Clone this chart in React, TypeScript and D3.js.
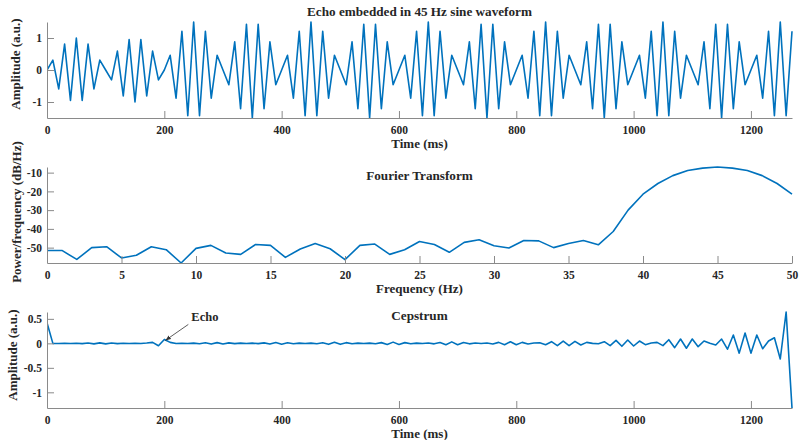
import { useEffect, useRef } from "react";
import * as d3 from "d3";

const waveAmplitude = [
  0, 0.31, -0.59, 0.81, -0.95, 1, -0.95, 0.81, -0.59, 0.31,
  0, -0.31, 0.59, -0.81, 0.95, -1, 0.95, -0.81, 0.59, -0.31,
  0, 0.46, -0.88, 1.21, -1.43, 1.5, -1.43, 1.21, -0.88, 0.46,
  0, -0.46, 0.88, -1.21, 1.43, -1.5, 1.43, -1.21, 0.88, -0.46,
  0, 0.46, -0.88, 1.21, -1.43, 1.5, -1.43, 1.21, -0.88, 0.46,
  0, -0.46, 0.88, -1.21, 1.43, -1.5, 1.43, -1.21, 0.88, -0.46,
  0, 0.46, -0.88, 1.21, -1.43, 1.5, -1.43, 1.21, -0.88, 0.46,
  0, -0.46, 0.88, -1.21, 1.43, -1.5, 1.43, -1.21, 0.88, -0.46,
  0, 0.46, -0.88, 1.21, -1.43, 1.5, -1.43, 1.21, -0.88, 0.46,
  0, -0.46, 0.88, -1.21, 1.43, -1.5, 1.43, -1.21, 0.88, -0.46,
  0, 0.46, -0.88, 1.21, -1.43, 1.5, -1.43, 1.21, -0.88, 0.46,
  0, -0.46, 0.88, -1.21, 1.43, -1.5, 1.43, -1.21, 0.88, -0.46,
  0, 0.46, -0.88, 1.21, -1.43, 1.5, -1.43, 1.21,
];

// power spectral density, 0..50 Hz in 1 Hz steps
const psdDb = [
  -51.5, -51.5, -56.3, -50.0, -49.5, -55.5, -54.1, -49.5, -51.1, -58.2,
  -50.4, -48.8, -52.9, -53.6, -48.3, -48.8, -55.2, -50.7, -47.8, -50.6,
  -56.4, -48.8, -48.1, -53.6, -51.1, -46.7, -48.3, -52.5, -47.2, -45.8,
  -49.0, -50.2, -46.2, -46.4, -50.0, -47.8, -46.2, -48.5, -41.4, -30.0,
  -21.5, -15.8, -11.6, -8.9, -7.6, -7.0, -7.6, -8.9, -11.6, -15.8,
  -21.5,
];

// real cepstrum, 10 ms quefrency steps
const cepstrum = [
  0.42, 0.0, -0.003, 0.002, -0.003, 0.003, -0.005, 0.008, -0.01, 0.01,
  -0.01, 0.008, -0.005, 0.003, -0.002, 0.002, -0.003, 0.006, 0.02, -0.05,
  0.08, 0.02, -0.004, 0.002, -0.004, 0.005, -0.008, 0.012, -0.015, 0.015,
  -0.014, 0.01, -0.006, 0.004, -0.003, 0.004, -0.006, 0.01, -0.015, 0.018,
  -0.017, 0.012, -0.007, 0.004, -0.003, 0.005, -0.008, 0.013, -0.02, 0.022,
  -0.02, 0.014, -0.008, 0.005, -0.003, 0.005, -0.009, 0.015, -0.022, 0.025,
  -0.022, 0.015, -0.009, 0.005, -0.004, 0.006, -0.01, 0.018, -0.027, 0.03,
  -0.027, 0.018, -0.01, 0.006, -0.004, 0.007, -0.012, 0.02, -0.03, 0.034,
  -0.03, 0.02, -0.012, 0.007, 0.01, -0.027, 0.034, -0.047, 0.047, -0.047,
  0.04, -0.034, 0.02, 0.0, -0.007, 0.034, -0.047, 0.06, -0.06, 0.068,
  -0.054, 0.047, -0.027, 0.007, 0.02, -0.047, 0.074, -0.088, 0.088, -0.1,
  0.088, -0.068, 0.047, 0.0, -0.034, 0.088, -0.12, 0.17, -0.2, 0.21,
  -0.2, 0.17, -0.11, 0.047, 0.115, -0.32, 0.64, -1.32,
];

const timeTicks = [0, 200, 400, 600, 800, 1000, 1200];
const freqTicks = [0, 5, 10, 15, 20, 25, 30, 35, 40, 45, 50];
const waveYTicks = [-1, 0, 1];
const psdYTicks = [-50, -40, -30, -20, -10];
const cepYTicks = [-1, -0.5, 0, 0.5];

const FONT = "'Liberation Serif', 'Times New Roman', serif";
const LINE = "#0072BD";
const AXIS = "#8a8a8a";
const TEXT = "#262626";

// MATLAB-like tick text: plain hyphen, no thousands separator
const plain = (d) => String(d);

const App = () => {
  const ref = useRef(null);

  useEffect(() => {
    const svg = d3.select(ref.current);
    svg.selectAll("*").remove();

    const left = 47, right = 792, h = 96;
    const times = waveAmplitude.map((_, i) => i * 10);
    const freqs = psdDb.map((_, i) => i);
    const quef = cepstrum.map((_, i) => i * 10);

    const panel = (o) => {
      const x = d3.scaleLinear().domain(o.xDomain).range([left, right]);
      const y = d3.scaleLinear().domain(o.yDomain).range([o.top + h, o.top]);
      const g = svg.append("g");

      const clipId = "clip" + o.top;
      g.append("clipPath").attr("id", clipId)
        .append("rect").attr("x", left).attr("y", o.top - 1)
        .attr("width", right - left + 1).attr("height", h + 2);

      g.append("path")
        .datum(o.xs.map((v, i) => [v, o.ys[i]]))
        .attr("clip-path", `url(#${clipId})`)
        .attr("fill", "none")
        .attr("stroke", LINE)
        .attr("stroke-width", 1.6)
        .attr("stroke-linejoin", "round")
        .attr("d", d3.line().x((d) => x(d[0])).y((d) => y(d[1])));

      // axes (MATLAB style: inward ticks, box off)
      const xAxis = d3.axisBottom(x).tickValues(o.xTicks).tickSizeInner(-7).tickSizeOuter(0)
        .tickPadding(8).tickFormat(plain);
      const gx = g.append("g").attr("transform", `translate(0,${o.top + h})`).call(xAxis);
      const yAxis = d3.axisLeft(y).tickValues(o.yTicks).tickSizeInner(-7).tickSizeOuter(0)
        .tickPadding(5).tickFormat(plain);
      const gy = g.append("g").attr("transform", `translate(${left},0)`).call(yAxis);
      [gx, gy].forEach((a) => {
        a.select(".domain").attr("stroke", AXIS).attr("stroke-width", 1);
        a.selectAll(".tick line").attr("stroke", AXIS);
        a.selectAll(".tick text")
          .attr("fill", TEXT)
          .style("font-family", FONT)
          .style("font-weight", "bold")
          .style("font-size", "11.5px");
      });
      gx.selectAll(".tick text").attr("dy", "0.71em");

      const txt = (s, tx, ty, size, rot = false) => {
        const t = g.append("text")
          .attr("text-anchor", "middle")
          .attr("fill", TEXT)
          .style("font-family", FONT)
          .style("font-weight", "bold")
          .style("font-size", size + "px")
          .text(s);
        if (rot) t.attr("transform", `translate(${tx},${ty}) rotate(-90)`);
        else t.attr("x", tx).attr("y", ty);
      };
      txt(o.title, (left + right) / 2, o.titleY, 13.2);
      txt(o.xLabel, (left + right) / 2, o.top + h + 30, 13);
      txt(o.yLabel, o.yLabelX, o.yLabelY, 13, true);
      return { x, y, g };
    };

    panel({
      top: 22, xDomain: [0, 1270], yDomain: [-1.5, 1.5],
      xs: times, ys: waveAmplitude, xTicks: timeTicks, yTicks: waveYTicks,
      title: "Echo embedded in 45 Hz sine waveform", titleY: 16,
      xLabel: "Time (ms)", yLabel: "Amplitude (a.u.)", yLabelX: 20, yLabelY: 64,
    });

    panel({
      top: 167, xDomain: [0, 50], yDomain: d3.extent(psdDb),
      xs: freqs, ys: psdDb, xTicks: freqTicks, yTicks: psdYTicks,
      title: "Fourier Transform", titleY: 180,
      xLabel: "Frequency (Hz)", yLabel: "Power/frequency (dB/Hz)", yLabelX: 21, yLabelY: 212,
    });

    const cep = panel({
      top: 312, xDomain: [0, 1270], yDomain: d3.extent(cepstrum),
      xs: quef, ys: cepstrum, xTicks: timeTicks, yTicks: cepYTicks,
      title: "Cepstrum", titleY: 320,
      xLabel: "Time (ms)", yLabel: "Amplitude (a.u.)", yLabelX: 17, yLabelY: 355,
    });

    // echo annotation
    const echoT = 200;
    const tipX = cep.x(echoT) + 1, tipY = cep.y(cepstrum[20]) + 1;
    svg.append("defs").append("marker")
      .attr("id", "arrow").attr("viewBox", "0 0 10 10")
      .attr("refX", 10).attr("refY", 5)
      .attr("markerWidth", 7).attr("markerHeight", 7)
      .attr("orient", "auto")
      .append("path").attr("d", "M0,1 L10,5 L0,9 Z").attr("fill", "#333");
    cep.g.append("line")
      .attr("x1", tipX + 23).attr("y1", tipY - 16)
      .attr("x2", tipX).attr("y2", tipY)
      .attr("stroke", "#333").attr("stroke-width", 0.8)
      .attr("marker-end", "url(#arrow)");
    cep.g.append("text")
      .attr("x", tipX + 26).attr("y", tipY - 19)
      .attr("fill", TEXT)
      .style("font-family", FONT)
      .style("font-weight", "bold")
      .style("font-size", "12.5px")
      .text("Echo");
  }, []);

  return (
    <div style={{ position: "absolute", left: 0, top: 0, background: "#fff" }}>
      <svg ref={ref} width={800} height={440} />
    </div>
  );
};

export default App;
